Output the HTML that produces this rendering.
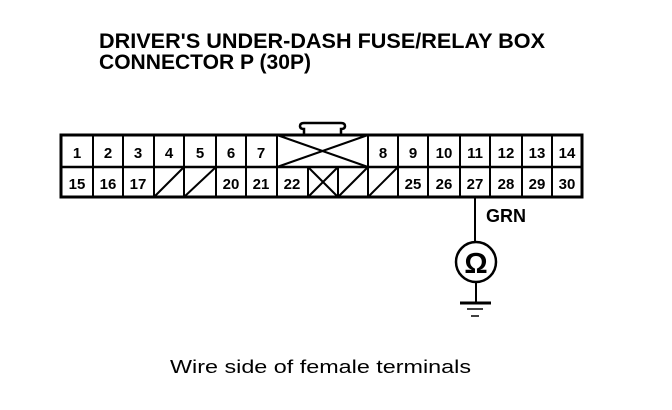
<!DOCTYPE html>
<html><head><meta charset="utf-8"><style>
html,body{margin:0;padding:0;background:#fff;}
svg{display:block;}
</style></head><body>
<svg width="672" height="410" viewBox="0 0 672 410" xmlns="http://www.w3.org/2000/svg" font-family="Liberation Sans, Arial, sans-serif">
<rect width="672" height="410" fill="#fff"/>
<g font-weight="bold" font-size="21" fill="#000">
<text x="99" y="48" textLength="446" lengthAdjust="spacingAndGlyphs">DRIVER'S UNDER-DASH FUSE/RELAY BOX</text>
<text x="99" y="69" textLength="212" lengthAdjust="spacingAndGlyphs">CONNECTOR P (30P)</text>
</g>
<path d="M304 135 V129 Q300 129 300 126 Q300 123 304 123 H341 Q345 123 345 126 Q345 129 341 129 V135" fill="#fff" stroke="#000" stroke-width="2.5"/>
<g stroke="#000" fill="none">
<rect x="61" y="135" width="521" height="62" stroke-width="3"/>
<line x1="61" y1="167" x2="582" y2="167" stroke-width="2.5"/>
<g stroke-width="2">
<line x1="93" y1="135" x2="93" y2="197"/>
<line x1="123" y1="135" x2="123" y2="197"/>
<line x1="154" y1="135" x2="154" y2="197"/>
<line x1="184" y1="135" x2="184" y2="197"/>
<line x1="216" y1="135" x2="216" y2="197"/>
<line x1="246" y1="135" x2="246" y2="197"/>
<line x1="277" y1="135" x2="277" y2="197"/>
<line x1="368" y1="135" x2="368" y2="197"/>
<line x1="398" y1="135" x2="398" y2="197"/>
<line x1="428" y1="135" x2="428" y2="197"/>
<line x1="460" y1="135" x2="460" y2="197"/>
<line x1="490" y1="135" x2="490" y2="197"/>
<line x1="522" y1="135" x2="522" y2="197"/>
<line x1="552" y1="135" x2="552" y2="197"/>
<line x1="308" y1="167" x2="308" y2="197"/>
<line x1="338" y1="167" x2="338" y2="197"/>
<line x1="277" y1="135" x2="368" y2="167"/>
<line x1="277" y1="167" x2="368" y2="135"/>
<line x1="308" y1="167" x2="338" y2="197"/>
<line x1="308" y1="197" x2="338" y2="167"/>
<line x1="154" y1="197" x2="184" y2="167"/>
<line x1="184" y1="197" x2="216" y2="167"/>
<line x1="338" y1="197" x2="368" y2="167"/>
<line x1="368" y1="197" x2="398" y2="167"/>
</g>
<line x1="475" y1="197" x2="475" y2="241" stroke-width="2"/>
<circle cx="476" cy="262" r="20" stroke-width="2.5"/>
<line x1="476" y1="282" x2="476" y2="303" stroke-width="2"/>
<line x1="460" y1="303" x2="491" y2="303" stroke-width="3"/>
<line x1="467" y1="309" x2="483" y2="309" stroke-width="1.5"/>
<line x1="471" y1="316" x2="479" y2="316" stroke-width="1.5"/>
</g>
<g font-weight="bold" font-size="15" fill="#000" text-anchor="middle">
<text x="77" y="158">1</text><text x="108" y="158">2</text><text x="138" y="158">3</text><text x="169" y="158">4</text><text x="200" y="158">5</text><text x="231" y="158">6</text><text x="261" y="158">7</text>
<text x="383" y="158">8</text><text x="413" y="158">9</text><text x="444" y="158">10</text><text x="475" y="158">11</text><text x="506" y="158">12</text><text x="537" y="158">13</text><text x="567" y="158">14</text>
<text x="77" y="189">15</text><text x="108" y="189">16</text><text x="138" y="189">17</text><text x="231" y="189">20</text><text x="261" y="189">21</text><text x="292" y="189">22</text>
<text x="413" y="189">25</text><text x="444" y="189">26</text><text x="475" y="189">27</text><text x="506" y="189">28</text><text x="537" y="189">29</text><text x="567" y="189">30</text>
</g>
<text x="486" y="222" font-weight="bold" font-size="18" fill="#000">GRN</text>
<text x="476" y="273" font-size="29" font-weight="bold" fill="#000" text-anchor="middle">Ω</text>
<text x="170" y="373" font-size="18" fill="#000" textLength="301" lengthAdjust="spacingAndGlyphs">Wire side of female terminals</text>
</svg>
</body></html>
